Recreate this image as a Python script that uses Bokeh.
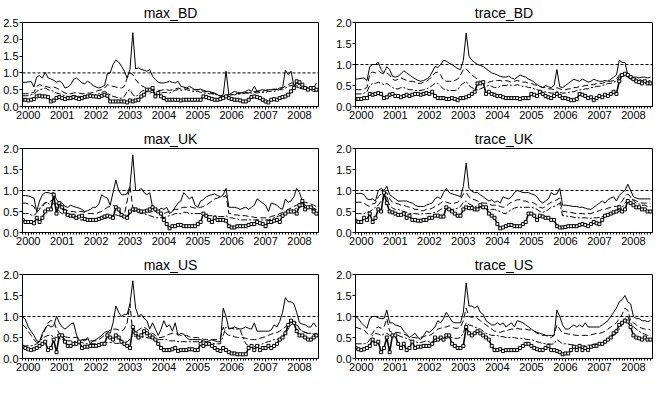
from bokeh.plotting import figure
from bokeh.layouts import gridplot
from bokeh.models import Range1d, FixedTicker, Span, PrintfTickFormatter
from bokeh.embed import file_html
from bokeh.resources import INLINE

# monthly observations, Nov 1999 .. Jul 2008
start_year, start_month, n_obs = 1999, 11, 105
year_ticks = [2000, 2001, 2002, 2003, 2004, 2005, 2006, 2007, 2008]
threshold = 1.0
yticks_25 = [0.0, 0.5, 1.0, 1.5, 2.0, 2.5]
yticks_20 = [0.0, 0.5, 1.0, 1.5, 2.0]

max_BD_a = [0.72, 0.72,
 0.73, 0.75, 0.58, 0.88, 0.92, 0.85, 1.02, 0.85, 0.82, 0.78, 0.72, 0.76,
 0.70, 0.55, 0.58, 0.65, 0.80, 0.85, 0.78, 0.70, 0.68, 0.75, 0.70, 0.62,
 0.58, 0.55, 0.58, 0.62, 0.98, 1.00, 1.25, 1.38, 1.32, 1.20, 1.05, 0.85,
 1.10, 2.20, 1.12, 1.15, 1.10, 1.08, 1.05, 1.10, 0.90, 0.80, 0.72, 0.70,
 0.70, 0.72, 0.75, 0.72, 0.70, 0.75, 0.60, 0.58, 0.55, 0.60, 0.55, 0.50,
 0.50, 0.52, 0.48, 0.45, 0.45, 0.42, 0.40, 0.35, 0.30, 0.35, 1.05, 0.35,
 0.40, 0.45, 0.42, 0.40, 0.42, 0.45, 0.50, 0.45, 0.60, 0.45, 0.48, 0.50,
 0.48, 0.50, 0.50, 0.52, 0.50, 0.55, 0.55, 1.08, 0.95, 1.05, 0.62, 0.58,
 0.55, 0.52, 0.55, 0.55, 0.50, 0.55, 0.70]
max_BD_b = [0.38, 0.38,
 0.38, 0.40, 0.42, 0.60, 0.65, 0.62, 0.60, 0.58, 0.55, 0.58, 0.55, 0.50,
 0.45, 0.40, 0.38, 0.38, 0.40, 0.42, 0.40, 0.38, 0.38, 0.40, 0.40, 0.42,
 0.45, 0.48, 0.50, 0.55, 0.65, 0.62, 0.60, 0.58, 0.56, 0.55, 0.60, 0.85,
 1.00, 0.95, 0.80, 0.70, 0.62, 0.58, 0.52, 0.50, 0.48, 0.50, 0.48, 0.48,
 0.50, 0.50, 0.48, 0.50, 0.52, 0.55, 0.52, 0.55, 0.55, 0.52, 0.50, 0.50,
 0.50, 0.48, 0.45, 0.45, 0.42, 0.40, 0.38, 0.35, 0.32, 0.30, 0.35, 0.35,
 0.35, 0.38, 0.38, 0.40, 0.42, 0.42, 0.40, 0.42, 0.45, 0.45, 0.45, 0.45,
 0.48, 0.48, 0.50, 0.50, 0.52, 0.55, 0.55, 0.60, 0.65, 0.70, 0.70, 0.70,
 0.65, 0.60, 0.58, 0.55, 0.52, 0.50, 0.50]
max_BD_c = [0.32, 0.32,
 0.32, 0.35, 0.35, 0.45, 0.50, 0.52, 0.55, 0.50, 0.48, 0.45, 0.40, 0.38,
 0.35, 0.32, 0.30, 0.30, 0.32, 0.32, 0.30, 0.30, 0.30, 0.32, 0.32, 0.32,
 0.35, 0.38, 0.42, 0.45, 0.40, 0.35, 0.30, 0.28, 0.25, 0.25, 0.30, 0.45,
 0.50, 0.35, 0.30, 0.35, 0.45, 0.48, 0.45, 0.40, 0.42, 0.40, 0.38, 0.40,
 0.42, 0.42, 0.40, 0.45, 0.48, 0.50, 0.48, 0.50, 0.50, 0.48, 0.45, 0.45,
 0.45, 0.42, 0.40, 0.40, 0.38, 0.38, 0.35, 0.35, 0.32, 0.30, 0.35, 0.32,
 0.35, 0.35, 0.35, 0.38, 0.38, 0.40, 0.40, 0.40, 0.42, 0.40, 0.42, 0.42,
 0.42, 0.45, 0.45, 0.45, 0.48, 0.50, 0.50, 0.55, 0.60, 0.62, 0.65, 0.62,
 0.58, 0.55, 0.52, 0.50, 0.48, 0.45, 0.45]
max_BD_d = [0.20, 0.20,
 0.18, 0.20, 0.22, 0.30, 0.32, 0.30, 0.30, 0.28, 0.15, 0.18, 0.25, 0.28,
 0.25, 0.22, 0.25, 0.25, 0.28, 0.25, 0.22, 0.25, 0.28, 0.30, 0.32, 0.30,
 0.30, 0.28, 0.32, 0.35, 0.32, 0.15, 0.15, 0.15, 0.15, 0.15, 0.15, 0.12,
 0.18, 0.15, 0.18, 0.20, 0.30, 0.35, 0.50, 0.50, 0.55, 0.30, 0.40, 0.30,
 0.25, 0.20, 0.20, 0.20, 0.20, 0.20, 0.18, 0.20, 0.20, 0.20, 0.20, 0.20,
 0.20, 0.20, 0.30, 0.28, 0.25, 0.22, 0.20, 0.20, 0.22, 0.25, 0.30, 0.25,
 0.22, 0.20, 0.20, 0.18, 0.15, 0.15, 0.20, 0.28, 0.30, 0.28, 0.25, 0.20,
 0.15, 0.12, 0.20, 0.22, 0.20, 0.25, 0.28, 0.30, 0.35, 0.45, 0.55, 0.75,
 0.72, 0.65, 0.55, 0.50, 0.55, 0.55, 0.50]

trace_BD_a = [0.65, 0.66,
 0.67, 0.68, 0.62, 0.95, 1.00, 1.00, 1.05, 0.88, 0.80, 0.95, 0.88, 0.72,
 0.70, 0.72, 0.78, 0.85, 0.80, 0.75, 0.70, 0.66, 0.62, 0.60, 0.62, 0.65,
 0.70, 0.82, 0.95, 0.93, 1.00, 1.10, 1.08, 1.03, 1.00, 0.95, 0.90, 0.88,
 1.10, 1.75, 1.20, 1.10, 1.05, 1.00, 0.98, 0.95, 0.90, 0.85, 0.80, 0.78,
 0.75, 0.72, 0.70, 0.70, 0.72, 0.68, 0.65, 0.70, 0.75, 0.72, 0.70, 0.65,
 0.62, 0.58, 0.52, 0.48, 0.45, 0.50, 0.47, 0.45, 0.50, 0.88, 0.47, 0.45,
 0.50, 0.55, 0.60, 0.65, 0.62, 0.60, 0.65, 0.62, 0.58, 0.60, 0.65, 0.62,
 0.60, 0.60, 0.62, 0.60, 0.65, 0.70, 0.75, 1.10, 1.05, 1.05, 0.75, 0.72,
 0.70, 0.70, 0.68, 0.70, 0.70, 0.68, 0.70]
trace_BD_b = [0.40, 0.40,
 0.40, 0.42, 0.45, 0.78, 0.82, 0.80, 0.85, 0.80, 0.78, 0.80, 0.75, 0.65,
 0.62, 0.65, 0.68, 0.65, 0.62, 0.60, 0.60, 0.58, 0.55, 0.55, 0.58, 0.60,
 0.65, 0.72, 0.80, 0.82, 0.75, 0.62, 0.60, 0.60, 0.60, 0.62, 0.65, 0.75,
 0.88, 0.90, 0.82, 0.75, 0.70, 0.65, 0.60, 0.58, 0.55, 0.58, 0.60, 0.62,
 0.62, 0.62, 0.60, 0.62, 0.60, 0.58, 0.60, 0.62, 0.60, 0.58, 0.58, 0.55,
 0.55, 0.52, 0.50, 0.48, 0.45, 0.45, 0.42, 0.42, 0.40, 0.45, 0.42, 0.40,
 0.40, 0.42, 0.42, 0.45, 0.45, 0.48, 0.48, 0.50, 0.50, 0.52, 0.52, 0.55,
 0.55, 0.55, 0.58, 0.60, 0.60, 0.62, 0.65, 0.75, 0.80, 0.78, 0.75, 0.70,
 0.68, 0.65, 0.65, 0.62, 0.62, 0.60, 0.62]
trace_BD_c = [0.30, 0.30,
 0.30, 0.32, 0.35, 0.50, 0.55, 0.55, 0.58, 0.55, 0.52, 0.55, 0.50, 0.45,
 0.42, 0.42, 0.45, 0.45, 0.42, 0.40, 0.40, 0.38, 0.38, 0.38, 0.40, 0.42,
 0.45, 0.50, 0.55, 0.55, 0.48, 0.42, 0.40, 0.38, 0.38, 0.38, 0.40, 0.50,
 0.55, 0.60, 0.50, 0.45, 0.42, 0.40, 0.42, 0.45, 0.48, 0.50, 0.48, 0.45,
 0.45, 0.48, 0.50, 0.50, 0.52, 0.50, 0.50, 0.52, 0.50, 0.48, 0.48, 0.45,
 0.45, 0.42, 0.40, 0.38, 0.36, 0.35, 0.33, 0.32, 0.32, 0.35, 0.33, 0.32,
 0.32, 0.33, 0.35, 0.35, 0.38, 0.40, 0.40, 0.42, 0.42, 0.45, 0.45, 0.48,
 0.48, 0.50, 0.52, 0.55, 0.55, 0.58, 0.60, 0.70, 0.75, 0.72, 0.70, 0.65,
 0.62, 0.60, 0.58, 0.55, 0.55, 0.55, 0.55]
trace_BD_d = [0.18, 0.18,
 0.18, 0.20, 0.20, 0.30, 0.28, 0.30, 0.32, 0.30, 0.20, 0.22, 0.28, 0.30,
 0.25, 0.25, 0.22, 0.25, 0.28, 0.25, 0.28, 0.30, 0.30, 0.28, 0.30, 0.32,
 0.30, 0.35, 0.25, 0.20, 0.20, 0.20, 0.18, 0.18, 0.20, 0.18, 0.15, 0.20,
 0.20, 0.22, 0.25, 0.30, 0.35, 0.55, 0.55, 0.58, 0.30, 0.35, 0.30, 0.28,
 0.25, 0.25, 0.22, 0.20, 0.20, 0.20, 0.20, 0.20, 0.18, 0.20, 0.20, 0.20,
 0.30, 0.28, 0.25, 0.35, 0.30, 0.25, 0.22, 0.20, 0.25, 0.30, 0.25, 0.20,
 0.20, 0.18, 0.15, 0.15, 0.18, 0.30, 0.28, 0.25, 0.20, 0.22, 0.15, 0.20,
 0.25, 0.22, 0.28, 0.25, 0.30, 0.35, 0.30, 0.60, 0.75, 0.78, 0.75, 0.70,
 0.65, 0.60, 0.58, 0.55, 0.60, 0.55, 0.55]

max_UK_a = [0.88, 0.88,
 0.87, 0.85, 0.82, 0.50, 0.75, 0.90, 0.95, 0.95, 0.93, 0.95, 0.78, 0.72,
 0.70, 0.62, 0.60, 0.65, 0.62, 0.60, 0.58, 0.55, 0.50, 0.52, 0.55, 0.60,
 0.60, 0.68, 0.90, 0.85, 0.82, 0.65, 0.95, 1.25, 1.00, 0.90, 0.90, 0.92,
 1.10, 1.85, 1.00, 1.00, 1.05, 0.95, 0.90, 0.95, 0.60, 0.50, 0.52, 0.58,
 0.55, 0.60, 0.45, 0.50, 0.60, 0.70, 0.75, 0.95, 0.88, 0.80, 0.85, 0.65,
 0.60, 0.75, 0.78, 0.85, 0.88, 0.90, 0.92, 0.88, 0.85, 0.90, 1.05, 0.60,
 0.60, 0.60, 0.58, 0.55, 0.58, 0.60, 0.55, 0.60, 0.65, 0.80, 0.75, 0.70,
 0.65, 0.50, 0.70, 0.68, 0.65, 0.58, 0.55, 0.80, 0.72, 0.75, 0.85, 1.05,
 0.95, 0.75, 0.65, 0.60, 0.60, 0.58, 0.55]
max_UK_b = [0.70, 0.70,
 0.68, 0.65, 0.62, 0.48, 0.55, 0.62, 0.70, 0.72, 0.75, 0.80, 0.70, 0.60,
 0.55, 0.55, 0.52, 0.50, 0.50, 0.48, 0.50, 0.50, 0.48, 0.45, 0.45, 0.45,
 0.45, 0.48, 0.50, 0.55, 0.60, 0.62, 0.65, 0.60, 0.50, 0.45, 0.42, 0.75,
 1.10, 0.60, 0.55, 0.55, 0.52, 0.50, 0.50, 0.48, 0.50, 0.50, 0.48, 0.45,
 0.45, 0.48, 0.50, 0.52, 0.55, 0.55, 0.58, 0.60, 0.60, 0.62, 0.60, 0.58,
 0.58, 0.60, 0.62, 0.65, 0.70, 0.75, 0.80, 0.82, 0.85, 0.85, 0.88, 0.45,
 0.45, 0.42, 0.42, 0.40, 0.40, 0.40, 0.38, 0.38, 0.36, 0.35, 0.35, 0.35,
 0.35, 0.35, 0.38, 0.40, 0.42, 0.45, 0.48, 0.50, 0.55, 0.58, 0.62, 0.65,
 0.68, 0.72, 0.72, 0.70, 0.68, 0.65, 0.62]
max_UK_c = [0.45, 0.45,
 0.45, 0.42, 0.40, 0.48, 0.58, 0.65, 0.72, 0.70, 0.65, 0.70, 0.60, 0.50,
 0.45, 0.42, 0.40, 0.38, 0.35, 0.33, 0.30, 0.30, 0.30, 0.28, 0.28, 0.30,
 0.30, 0.30, 0.32, 0.33, 0.35, 0.38, 0.40, 0.42, 0.40, 0.38, 0.38, 0.40,
 0.45, 0.50, 0.50, 0.48, 0.45, 0.45, 0.42, 0.40, 0.38, 0.35, 0.35, 0.35,
 0.35, 0.38, 0.40, 0.42, 0.45, 0.45, 0.45, 0.48, 0.48, 0.45, 0.45, 0.45,
 0.45, 0.45, 0.42, 0.42, 0.40, 0.40, 0.40, 0.38, 0.38, 0.38, 0.40, 0.35,
 0.35, 0.33, 0.32, 0.30, 0.30, 0.30, 0.30, 0.30, 0.30, 0.30, 0.30, 0.30,
 0.30, 0.30, 0.32, 0.35, 0.38, 0.40, 0.42, 0.45, 0.50, 0.52, 0.55, 0.58,
 0.60, 0.62, 0.62, 0.60, 0.58, 0.55, 0.55]
max_UK_d = [0.30, 0.25,
 0.25, 0.25, 0.22, 0.35, 0.25, 0.35, 0.50, 0.55, 0.55, 0.90, 0.45, 0.70,
 0.60, 0.50, 0.42, 0.40, 0.40, 0.35, 0.38, 0.40, 0.32, 0.30, 0.30, 0.30,
 0.30, 0.32, 0.35, 0.38, 0.40, 0.38, 0.35, 0.60, 0.55, 0.42, 0.38, 0.35,
 0.50, 0.55, 0.55, 0.52, 0.50, 0.50, 0.52, 0.55, 0.60, 0.55, 0.50, 0.45,
 0.30, 0.20, 0.10, 0.15, 0.15, 0.18, 0.18, 0.15, 0.15, 0.15, 0.15, 0.15,
 0.20, 0.25, 0.45, 0.40, 0.30, 0.25, 0.35, 0.30, 0.30, 0.30, 0.28, 0.15,
 0.12, 0.12, 0.15, 0.15, 0.15, 0.15, 0.18, 0.20, 0.20, 0.25, 0.22, 0.20,
 0.15, 0.25, 0.25, 0.28, 0.30, 0.25, 0.40, 0.45, 0.50, 0.50, 0.50, 0.45,
 0.65, 0.75, 0.55, 0.60, 0.60, 0.50, 0.45]

trace_UK_a = [0.93, 0.93,
 0.93, 0.90, 0.80, 0.78, 0.80, 0.75, 1.00, 1.05, 1.00, 1.10, 0.90, 0.85,
 0.80, 0.75, 0.75, 0.75, 0.75, 0.72, 0.70, 0.65, 0.62, 0.62, 0.62, 0.65,
 0.68, 0.70, 0.80, 0.85, 0.80, 0.95, 1.05, 0.95, 0.92, 0.90, 0.88, 0.85,
 1.10, 1.65, 1.05, 0.98, 0.95, 0.95, 0.90, 0.85, 0.80, 0.75, 0.78, 0.72,
 0.75, 0.70, 0.85, 0.82, 0.80, 0.85, 0.95, 1.00, 0.98, 0.95, 0.95, 0.95,
 0.92, 0.90, 0.85, 0.75, 0.70, 0.75, 0.80, 0.95, 0.90, 0.92, 1.05, 0.65,
 0.65, 0.64, 0.63, 0.62, 0.62, 0.60, 0.60, 0.58, 0.56, 0.55, 0.60, 0.65,
 0.70, 0.75, 0.70, 0.78, 0.82, 0.85, 0.75, 0.88, 0.95, 1.00, 1.15, 1.00,
 0.85, 0.82, 0.80, 0.80, 0.80, 0.80, 0.80]
trace_UK_b = [0.72, 0.72,
 0.72, 0.70, 0.65, 0.62, 0.68, 0.70, 0.85, 0.92, 0.90, 0.95, 0.80, 0.72,
 0.70, 0.68, 0.65, 0.65, 0.62, 0.60, 0.58, 0.55, 0.55, 0.52, 0.52, 0.55,
 0.55, 0.58, 0.62, 0.65, 0.70, 0.75, 0.72, 0.70, 0.68, 0.70, 0.72, 0.80,
 0.92, 0.95, 0.85, 0.80, 0.78, 0.75, 0.72, 0.70, 0.70, 0.68, 0.65, 0.65,
 0.65, 0.62, 0.60, 0.62, 0.68, 0.72, 0.75, 0.78, 0.78, 0.75, 0.75, 0.72,
 0.72, 0.70, 0.65, 0.60, 0.58, 0.62, 0.68, 0.72, 0.75, 0.78, 0.82, 0.50,
 0.50, 0.48, 0.48, 0.46, 0.45, 0.45, 0.45, 0.44, 0.45, 0.45, 0.48, 0.50,
 0.52, 0.55, 0.55, 0.58, 0.60, 0.62, 0.62, 0.65, 0.75, 0.85, 0.92, 0.85,
 0.78, 0.75, 0.72, 0.70, 0.70, 0.70, 0.70]
trace_UK_c = [0.45, 0.45,
 0.45, 0.45, 0.48, 0.50, 0.55, 0.60, 0.65, 0.75, 0.80, 0.85, 0.65, 0.58,
 0.55, 0.55, 0.52, 0.50, 0.48, 0.46, 0.45, 0.45, 0.44, 0.44, 0.45, 0.45,
 0.45, 0.46, 0.48, 0.50, 0.55, 0.58, 0.56, 0.55, 0.55, 0.56, 0.58, 0.62,
 0.72, 0.75, 0.68, 0.65, 0.62, 0.60, 0.60, 0.58, 0.56, 0.55, 0.55, 0.55,
 0.52, 0.50, 0.46, 0.45, 0.50, 0.55, 0.58, 0.60, 0.60, 0.60, 0.60, 0.60,
 0.60, 0.58, 0.55, 0.50, 0.48, 0.50, 0.55, 0.60, 0.62, 0.65, 0.70, 0.40,
 0.40, 0.38, 0.38, 0.36, 0.35, 0.35, 0.35, 0.35, 0.34, 0.34, 0.35, 0.35,
 0.36, 0.38, 0.40, 0.42, 0.45, 0.45, 0.48, 0.50, 0.60, 0.70, 0.78, 0.85,
 0.75, 0.70, 0.68, 0.65, 0.65, 0.62, 0.62]
trace_UK_d = [0.28, 0.25,
 0.25, 0.35, 0.30, 0.45, 0.25, 0.35, 0.55, 0.50, 0.95, 0.70, 0.50, 0.48,
 0.45, 0.42, 0.42, 0.45, 0.35, 0.40, 0.30, 0.30, 0.28, 0.28, 0.30, 0.30,
 0.35, 0.35, 0.40, 0.40, 0.38, 0.38, 0.60, 0.55, 0.50, 0.45, 0.40, 0.40,
 0.55, 0.60, 0.58, 0.58, 0.55, 0.55, 0.65, 0.60, 0.60, 0.45, 0.40, 0.35,
 0.20, 0.10, 0.12, 0.15, 0.18, 0.18, 0.15, 0.15, 0.15, 0.20, 0.25, 0.45,
 0.45, 0.40, 0.30, 0.40, 0.38, 0.35, 0.35, 0.30, 0.30, 0.15, 0.12, 0.12,
 0.13, 0.15, 0.15, 0.15, 0.15, 0.18, 0.20, 0.18, 0.15, 0.20, 0.25, 0.22,
 0.20, 0.30, 0.40, 0.42, 0.45, 0.48, 0.50, 0.60, 0.50, 0.55, 0.75, 0.70,
 0.65, 0.60, 0.60, 0.55, 0.55, 0.50, 0.50]

max_US_a = [1.00, 0.92,
 0.75, 0.65, 0.55, 0.42, 0.40, 0.60, 0.72, 0.80, 0.75, 0.78, 1.00, 0.85,
 0.75, 0.70, 0.75, 0.82, 0.85, 0.58, 0.38, 0.45, 0.42, 0.50, 0.35, 0.42,
 0.45, 0.50, 0.55, 0.62, 0.65, 0.60, 0.85, 1.25, 1.10, 1.00, 1.05, 1.05,
 1.30, 1.85, 1.20, 1.00, 1.05, 0.95, 0.90, 0.70, 0.85, 0.70, 0.55, 0.70,
 0.90, 0.75, 0.80, 0.65, 0.85, 0.55, 0.60, 0.58, 0.50, 0.45, 0.45, 0.45,
 0.45, 0.45, 0.42, 0.40, 0.42, 0.45, 0.42, 0.40, 0.40, 1.20, 1.00, 0.70,
 0.72, 0.75, 0.72, 0.70, 0.72, 0.75, 0.72, 0.70, 0.85, 0.65, 0.65, 0.65,
 0.65, 0.65, 0.68, 0.80, 0.75, 0.88, 1.10, 1.45, 1.35, 1.35, 1.30, 1.10,
 0.85, 0.82, 0.80, 0.75, 0.75, 0.85, 0.75]
max_US_b = [0.80, 0.75,
 0.65, 0.55, 0.45, 0.38, 0.42, 0.55, 0.70, 0.85, 0.90, 0.90, 0.70, 0.60,
 0.55, 0.52, 0.50, 0.50, 0.50, 0.50, 0.48, 0.45, 0.45, 0.45, 0.42, 0.42,
 0.42, 0.45, 0.50, 0.55, 0.62, 0.68, 0.70, 0.70, 0.68, 0.65, 0.70, 0.85,
 1.30, 0.60, 0.62, 0.68, 0.72, 0.75, 0.70, 0.65, 0.60, 0.55, 0.50, 0.50,
 0.52, 0.55, 0.58, 0.60, 0.60, 0.58, 0.55, 0.55, 0.55, 0.52, 0.50, 0.50,
 0.50, 0.48, 0.46, 0.45, 0.45, 0.45, 0.45, 0.45, 0.48, 0.75, 0.60, 0.55,
 0.55, 0.52, 0.50, 0.50, 0.50, 0.48, 0.46, 0.45, 0.45, 0.45, 0.48, 0.50,
 0.52, 0.55, 0.58, 0.60, 0.62, 0.65, 0.70, 0.75, 0.80, 0.85, 0.88, 0.85,
 0.70, 0.65, 0.62, 0.60, 0.60, 0.58, 0.60]
max_US_c = [0.30, 0.30,
 0.30, 0.30, 0.32, 0.35, 0.40, 0.48, 0.52, 0.55, 0.55, 0.52, 0.50, 0.48,
 0.45, 0.45, 0.42, 0.42, 0.40, 0.40, 0.40, 0.38, 0.36, 0.35, 0.35, 0.35,
 0.35, 0.36, 0.36, 0.38, 0.38, 0.38, 0.38, 0.36, 0.36, 0.36, 0.38, 0.40,
 0.45, 0.55, 0.52, 0.50, 0.50, 0.52, 0.50, 0.48, 0.48, 0.46, 0.45, 0.45,
 0.45, 0.45, 0.42, 0.42, 0.42, 0.40, 0.40, 0.40, 0.40, 0.40, 0.40, 0.40,
 0.40, 0.40, 0.40, 0.38, 0.38, 0.36, 0.35, 0.35, 0.35, 0.55, 0.75, 0.72,
 0.72, 0.70, 0.70, 0.68, 0.50, 0.35, 0.30, 0.28, 0.28, 0.30, 0.32, 0.35,
 0.38, 0.40, 0.42, 0.45, 0.45, 0.48, 0.52, 0.60, 0.70, 0.80, 0.85, 0.80,
 0.70, 0.65, 0.62, 0.60, 0.60, 0.58, 0.58]
max_US_d = [0.28, 0.25,
 0.22, 0.20, 0.22, 0.25, 0.30, 0.35, 0.40, 0.20, 0.25, 0.45, 0.15, 0.55,
 0.55, 0.40, 0.30, 0.30, 0.35, 0.35, 0.40, 0.25, 0.28, 0.28, 0.30, 0.30,
 0.30, 0.32, 0.35, 0.35, 0.55, 0.50, 0.45, 0.55, 0.50, 0.40, 0.35, 0.30,
 0.25, 0.75, 0.60, 0.50, 0.55, 0.65, 0.60, 0.55, 0.50, 0.45, 0.35, 0.25,
 0.20, 0.20, 0.20, 0.22, 0.25, 0.18, 0.20, 0.20, 0.20, 0.22, 0.22, 0.20,
 0.20, 0.35, 0.30, 0.35, 0.35, 0.30, 0.25, 0.20, 0.18, 0.25, 0.20, 0.15,
 0.12, 0.12, 0.10, 0.10, 0.10, 0.10, 0.25, 0.30, 0.20, 0.30, 0.20, 0.25,
 0.25, 0.30, 0.25, 0.30, 0.35, 0.45, 0.50, 0.60, 0.80, 0.90, 0.85, 0.65,
 0.55, 0.55, 0.50, 0.45, 0.45, 0.50, 0.55]

trace_US_a = [1.00, 0.95,
 0.85, 0.78, 0.72, 0.95, 1.00, 1.00, 0.97, 0.95, 0.95, 1.15, 0.85, 0.85,
 0.80, 0.78, 0.75, 0.65, 0.58, 0.50, 0.55, 0.60, 0.50, 0.45, 0.55, 0.65,
 0.62, 0.68, 0.75, 0.90, 0.85, 0.95, 1.10, 1.00, 0.88, 0.85, 0.85, 0.85,
 1.10, 1.80, 1.25, 1.25, 1.20, 1.25, 1.10, 1.05, 0.90, 0.85, 0.80, 0.80,
 0.85, 0.80, 0.85, 0.75, 0.80, 0.85, 0.75, 0.90, 0.88, 0.85, 0.80, 0.75,
 0.70, 0.65, 0.62, 0.60, 0.58, 0.55, 0.55, 0.55, 0.55, 1.15, 1.00, 0.80,
 0.70, 0.70, 0.75, 0.80, 0.75, 0.80, 0.75, 0.85, 0.75, 0.75, 0.75, 0.75,
 0.75, 0.80, 0.85, 0.90, 1.00, 1.10, 1.20, 1.35, 1.40, 1.50, 1.35, 1.30,
 1.00, 0.95, 0.95, 0.90, 0.90, 0.88, 0.90]
trace_US_b = [0.75, 0.72,
 0.70, 0.68, 0.60, 0.55, 0.60, 0.72, 0.75, 0.72, 0.75, 0.95, 0.65, 0.62,
 0.62, 0.62, 0.60, 0.58, 0.55, 0.50, 0.50, 0.50, 0.48, 0.50, 0.52, 0.55,
 0.55, 0.58, 0.65, 0.70, 0.72, 0.75, 0.75, 0.78, 0.75, 0.72, 0.72, 0.75,
 0.90, 1.20, 1.00, 0.98, 1.00, 0.95, 0.90, 0.85, 0.80, 0.75, 0.70, 0.65,
 0.65, 0.62, 0.65, 0.65, 0.68, 0.70, 0.70, 0.72, 0.70, 0.70, 0.70, 0.68,
 0.68, 0.65, 0.60, 0.58, 0.55, 0.55, 0.52, 0.50, 0.55, 0.80, 0.70, 0.60,
 0.60, 0.58, 0.58, 0.56, 0.55, 0.55, 0.55, 0.55, 0.55, 0.56, 0.58, 0.60,
 0.60, 0.62, 0.65, 0.70, 0.75, 0.80, 0.85, 0.95, 1.05, 1.20, 1.15, 0.90,
 0.85, 0.80, 0.75, 0.72, 0.70, 0.70, 0.68]
trace_US_c = [0.35, 0.35,
 0.35, 0.35, 0.36, 0.45, 0.55, 0.60, 0.58, 0.55, 0.58, 0.60, 0.55, 0.55,
 0.55, 0.55, 0.52, 0.50, 0.48, 0.45, 0.42, 0.40, 0.38, 0.38, 0.40, 0.42,
 0.40, 0.38, 0.40, 0.42, 0.45, 0.48, 0.48, 0.50, 0.50, 0.48, 0.48, 0.50,
 0.60, 0.85, 0.80, 0.78, 0.75, 0.72, 0.70, 0.65, 0.60, 0.58, 0.55, 0.55,
 0.55, 0.52, 0.52, 0.50, 0.50, 0.50, 0.50, 0.48, 0.48, 0.48, 0.46, 0.45,
 0.45, 0.42, 0.40, 0.38, 0.36, 0.35, 0.35, 0.34, 0.35, 0.45, 0.40, 0.35,
 0.35, 0.34, 0.33, 0.32, 0.30, 0.30, 0.30, 0.30, 0.32, 0.32, 0.34, 0.35,
 0.35, 0.38, 0.42, 0.45, 0.50, 0.55, 0.60, 0.70, 0.80, 0.95, 1.00, 0.85,
 0.75, 0.70, 0.65, 0.60, 0.58, 0.55, 0.55]
trace_US_d = [0.25, 0.22,
 0.20, 0.22, 0.25, 0.30, 0.45, 0.35, 0.40, 0.15, 0.25, 0.50, 0.15, 0.55,
 0.55, 0.35, 0.25, 0.35, 0.20, 0.25, 0.40, 0.25, 0.28, 0.28, 0.30, 0.30,
 0.30, 0.35, 0.50, 0.45, 0.50, 0.45, 0.55, 0.55, 0.35, 0.30, 0.25, 0.25,
 0.30, 0.75, 0.60, 0.55, 0.60, 0.65, 0.60, 0.55, 0.50, 0.45, 0.30, 0.20,
 0.20, 0.22, 0.18, 0.20, 0.20, 0.20, 0.20, 0.20, 0.25, 0.30, 0.35, 0.35,
 0.30, 0.25, 0.22, 0.20, 0.20, 0.25, 0.30, 0.20, 0.20, 0.18, 0.15, 0.10,
 0.12, 0.12, 0.20, 0.28, 0.20, 0.30, 0.20, 0.25, 0.20, 0.28, 0.30, 0.30,
 0.35, 0.35, 0.40, 0.45, 0.50, 0.60, 0.65, 0.80, 0.85, 0.90, 0.88, 0.75,
 0.55, 0.50, 0.48, 0.45, 0.50, 0.45, 0.45]

# decimal-year date axis for the monthly observations
dates = [start_year + (start_month - 1 + i) / 12.0 for i in range(n_obs)]
minor = [start_year + (start_month - 1 + i) / 12.0 for i in range(n_obs + 1)]

FONT = "Liberation Sans"


def panel(title, a, b, c, d, ymax, yticks, width, height, bl, br, bt, bb):
    for s in (a, b, c, d):
        assert len(s) == n_obs, (title, len(s))
    p = figure(width=width, height=height, output_backend="svg", toolbar_location=None,
               x_range=Range1d(1999.83, 2008.56), y_range=Range1d(0, ymax),
               min_border_left=bl, min_border_right=br, min_border_top=bt,
               min_border_bottom=bb, title=title, background_fill_color="white",
               border_fill_color="white")
    p.title.align = "center"
    p.title.text_font = FONT
    p.title.text_font_size = "14px"
    p.title.text_font_style = "normal"
    p.title.text_color = "black"
    p.title.standoff = 3
    p.grid.visible = False
    p.outline_line_color = "black"
    p.outline_line_alpha = 1.0
    p.outline_line_width = 1
    p.xaxis.ticker = FixedTicker(ticks=year_ticks, minor_ticks=minor)
    p.yaxis.ticker = FixedTicker(ticks=yticks)
    p.yaxis.formatter = PrintfTickFormatter(format="%.1f")
    for ax in (p.xaxis[0], p.yaxis[0]):
        ax.axis_line_color = "black"
        ax.major_tick_line_color = "black"
        ax.minor_tick_line_color = "black"
        ax.major_label_text_font = FONT
        ax.major_label_text_font_size = "11px"
        ax.major_label_text_color = "black"
        ax.major_tick_in = 0
        ax.minor_tick_in = 0
        ax.major_label_standoff = 1
    p.xaxis.major_tick_out = 3
    p.xaxis.minor_tick_out = 2
    p.yaxis.major_tick_out = 3
    p.yaxis.minor_tick_line_color = None
    p.add_layout(Span(location=threshold, dimension="width", line_color="black",
                      line_dash="3 2", line_width=1))
    p.line(dates, a, line_color="black", line_width=1)
    p.line(dates, b, line_color="black", line_width=1, line_dash="6 3")
    p.line(dates, c, line_color="black", line_width=1, line_dash="6 2 2 2")
    p.line(dates, d, line_color="black", line_width=1.6)
    p.scatter(dates, d, marker="square", size=3, fill_color="white",
              line_color="black", line_width=1)
    return p


LW, RW, H = 333, 320, 126
TOP, BOT = 22, 20
p1 = panel("max_BD", max_BD_a, max_BD_b, max_BD_c, max_BD_d, 2.5, yticks_25, LW, H, 20, 15, TOP, BOT)
p2 = panel("trace_BD", trace_BD_a, trace_BD_b, trace_BD_c, trace_BD_d, 2.0, yticks_20, RW, H, 22, 1, TOP, BOT)
p3 = panel("max_UK", max_UK_a, max_UK_b, max_UK_c, max_UK_d, 2.0, yticks_20, LW, H, 20, 15, TOP, BOT)
p4 = panel("trace_UK", trace_UK_a, trace_UK_b, trace_UK_c, trace_UK_d, 2.0, yticks_20, RW, H, 22, 1, TOP, BOT)
p5 = panel("max_US", max_US_a, max_US_b, max_US_c, max_US_d, 2.0, yticks_20, LW, H, 20, 15, TOP, BOT)
p6 = panel("trace_US", trace_US_a, trace_US_b, trace_US_c, trace_US_d, 2.0, yticks_20, RW, H, 22, 1, TOP, BOT)

grid = gridplot([[p1, p2], [p3, p4], [p5, p6]], toolbar_location=None)

open("out.html", "w").write(file_html(grid, INLINE))
